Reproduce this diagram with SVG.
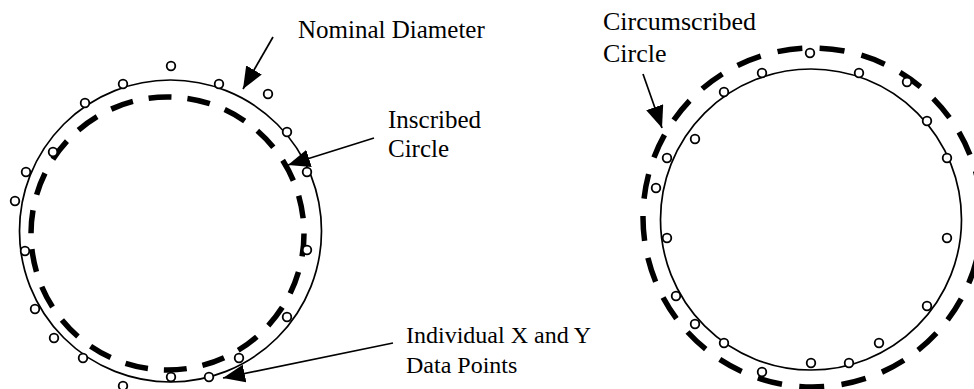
<svg xmlns="http://www.w3.org/2000/svg" width="974" height="389" viewBox="0 0 974 389">
<style>
.solid{fill:none;stroke:#000;stroke-width:1.7}
.dash{fill:none;stroke:#000;stroke-width:5.5}
.pt{fill:#fff;stroke:#000;stroke-width:1.8}
.lbl{font-family:"Liberation Serif","Times New Roman",serif;font-size:25px;fill:#000}
.conn{stroke:#000;stroke-width:1.7;fill:none}
</style>
<defs>
<marker id="ah" markerWidth="22" markerHeight="18" refX="22" refY="9" orient="auto" markerUnits="userSpaceOnUse">
<path d="M0,0 L22,9 L0,18 z" fill="#000"/>
</marker>
</defs>
<rect width="974" height="389" fill="#fff"/>

<g id="nominal-left"><circle class="solid" cx="170.5" cy="231" r="151"/></g>
<g id="inscribed-circle"><circle class="dash" cx="167.5" cy="233.5" r="136.5" stroke-dasharray="23 16"/></g>

<g id="points-left">
<circle class="pt" cx="171" cy="66" r="4.3"/>
<circle class="pt" cx="123" cy="84" r="4.3"/>
<circle class="pt" cx="219" cy="84" r="4.3"/>
<circle class="pt" cx="268" cy="94" r="4.3"/>
<circle class="pt" cx="85" cy="103" r="4.3"/>
<circle class="pt" cx="287" cy="132" r="4.3"/>
<circle class="pt" cx="53" cy="152" r="4.3"/>
<circle class="pt" cx="307" cy="172" r="4.3"/>
<circle class="pt" cx="26" cy="172" r="4.3"/>
<circle class="pt" cx="15" cy="201" r="4.3"/>
<circle class="pt" cx="25" cy="251" r="4.3"/>
<circle class="pt" cx="307" cy="250" r="4.3"/>
<circle class="pt" cx="35" cy="309" r="4.3"/>
<circle class="pt" cx="287" cy="317" r="4.3"/>
<circle class="pt" cx="54" cy="338" r="4.3"/>
<circle class="pt" cx="83" cy="358" r="4.3"/>
<circle class="pt" cx="239" cy="358" r="4.3"/>
<circle class="pt" cx="171" cy="377" r="4.3"/>
<circle class="pt" cx="209" cy="377" r="4.3"/>
<circle class="pt" cx="123" cy="386" r="4.3"/>
</g>

<g id="nominal-right"><circle class="solid" cx="811" cy="219.5" r="150.5"/></g>
<g id="circumscribed-circle"><circle class="dash" cx="812.5" cy="217.5" r="169.5" stroke-dasharray="25 17.4"/></g>

<g id="points-right">
<circle class="pt" cx="810" cy="53" r="4.3"/>
<circle class="pt" cx="762" cy="73" r="4.3"/>
<circle class="pt" cx="859" cy="73" r="4.3"/>
<circle class="pt" cx="907" cy="82" r="4.3"/>
<circle class="pt" cx="724" cy="92" r="4.3"/>
<circle class="pt" cx="927" cy="121" r="4.3"/>
<circle class="pt" cx="695" cy="139" r="4.3"/>
<circle class="pt" cx="667" cy="158" r="4.3"/>
<circle class="pt" cx="947" cy="158" r="4.3"/>
<circle class="pt" cx="656" cy="188" r="4.3"/>
<circle class="pt" cx="667" cy="238" r="4.3"/>
<circle class="pt" cx="947" cy="238" r="4.3"/>
<circle class="pt" cx="676" cy="296" r="4.3"/>
<circle class="pt" cx="927" cy="306" r="4.3"/>
<circle class="pt" cx="695" cy="324" r="4.3"/>
<circle class="pt" cx="879" cy="343" r="4.3"/>
<circle class="pt" cx="724" cy="343" r="4.3"/>
<circle class="pt" cx="811" cy="363" r="4.3"/>
<circle class="pt" cx="849" cy="363" r="4.3"/>
<circle class="pt" cx="762" cy="372" r="4.3"/>
</g>

<g id="connectors">
<line class="conn" x1="273" y1="37" x2="243" y2="89" marker-end="url(#ah)"/>
<line class="conn" x1="374" y1="138" x2="288" y2="165" marker-end="url(#ah)"/>
<line class="conn" x1="393" y1="343" x2="223" y2="378" marker-end="url(#ah)"/>
<line class="conn" x1="643" y1="74" x2="662" y2="128" marker-end="url(#ah)"/>
</g>

<g id="label-nominal"><text class="lbl" x="298" y="38">Nominal Diameter</text></g>
<g id="label-inscribed"><text class="lbl" x="388" y="128">Inscribed</text><text class="lbl" x="388" y="157">Circle</text></g>
<g id="label-points"><text class="lbl" x="406" y="343" style="font-size:24px">Individual X and Y</text><text class="lbl" x="406" y="373" style="font-size:24px">Data Points</text></g>
<g id="label-circumscribed"><text class="lbl" x="603" y="30" style="font-size:26px">Circumscribed</text><text class="lbl" x="603" y="62" style="font-size:26px">Circle</text></g>
</svg>
